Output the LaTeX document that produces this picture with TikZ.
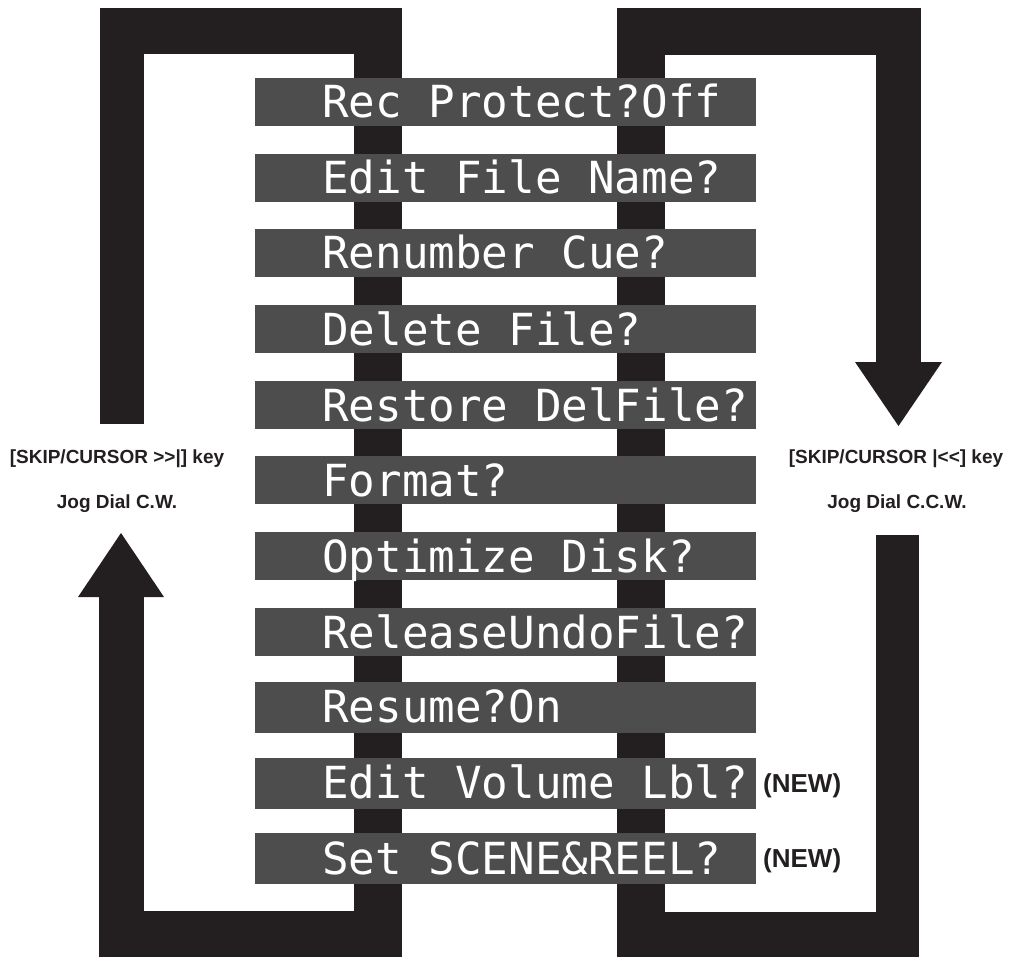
\documentclass[tikz,border=0pt]{standalone}
\usepackage{fontspec}
\setmainfont{Liberation Sans}
\newfontfamily\lcdfont{DejaVu Sans Mono}
\definecolor{loopc}{HTML}{231F20}
\definecolor{barc}{HTML}{4D4D4D}
\begin{document}
\begin{tikzpicture}[x=1pt,y=-1pt,
  loopfill/.style={fill=loopc,draw=none},
  menubar/.style={fill=barc,draw=none,minimum width=501pt,inner sep=0pt,anchor=north west},
  lcd/.style={text=white,font=\lcdfont\fontsize{44.2}{44.2}\selectfont,inner sep=0pt,anchor=base west},
  sidelabel/.style={text=loopc,font=\bfseries\fontsize{19}{19}\selectfont,inner sep=0pt,anchor=base},
  newlabel/.style={text=loopc,font=\bfseries\fontsize{26}{26}\selectfont,inner sep=0pt,anchor=base west}]
\useasboundingbox (0,0) rectangle (1011,957);
% left loop
\fill[loopfill] (100,8) rectangle (402,54);
\fill[loopfill] (100,8) rectangle (144,424);
\fill[loopfill] (354,8) rectangle (402,957);
\fill[loopfill] (99,911) rectangle (402,957);
\fill[loopfill] (99,597) rectangle (144,957);
\fill[loopfill] (78,597) -- (164,597) -- (121,533) -- cycle;
% right loop
\fill[loopfill] (617,8) rectangle (921,55);
\fill[loopfill] (617,8) rectangle (665,957);
\fill[loopfill] (876,8) rectangle (921,362);
\fill[loopfill] (855,362) -- (942,362) -- (898.5,426) -- cycle;
\fill[loopfill] (876,535) rectangle (919,957);
\fill[loopfill] (617,912) rectangle (919,957);
% menu bars
\node[menubar,minimum height=48pt] (b1) at (255,78) {};
\node[menubar,minimum height=48pt] (b2) at (255,154) {};
\node[menubar,minimum height=48pt] (b3) at (255,229) {};
\node[menubar,minimum height=48pt] (b4) at (255,305) {};
\node[menubar,minimum height=48pt] (b5) at (255,381) {};
\node[menubar,minimum height=48pt] (b6) at (255,456) {};
\node[menubar,minimum height=48pt] (b7) at (255,532) {};
\node[menubar,minimum height=48pt] (b8) at (255,608) {};
\node[menubar,minimum height=51pt] (b9) at (255,682) {};
\node[menubar,minimum height=51pt] (b10) at (255,758) {};
\node[menubar,minimum height=51pt] (b11) at (255,833) {};
% menu texts
\node[lcd] (t1) at (322,118) {Rec Protect?Off};
\node[lcd] (t2) at (322,194) {Edit File Name?};
\node[lcd] (t3) at (322,269) {Renumber Cue?};
\node[lcd] (t4) at (322,345) {Delete File?};
\node[lcd] (t5) at (322,421) {Restore DelFile?};
\node[lcd] (t6) at (322,496) {Format?};
\node[lcd] (t7) at (322,572) {Optimize Disk?};
\node[lcd] (t8) at (322,648) {ReleaseUndoFile?};
\node[lcd] (t9) at (322,722) {Resume?On};
\node[lcd] (t10) at (322,798) {Edit Volume Lbl?};
\node[lcd] (t11) at (322,874) {Set SCENE\&REEL?};
% new labels
\node[newlabel] (n1) at (763,792) {(NEW)};
\node[newlabel] (n2) at (763,867) {(NEW)};
% side labels
\node[sidelabel] (l1) at (117,463) {[SKIP/CURSOR >{}>|] key};
\node[sidelabel] (l2) at (117,508) {Jog Dial C.W.};
\node[sidelabel] (r1) at (896,463) {[SKIP/CURSOR |<{}<] key};
\node[sidelabel] (r2) at (897,508) {Jog Dial C.C.W.};
\end{tikzpicture}
\end{document}
